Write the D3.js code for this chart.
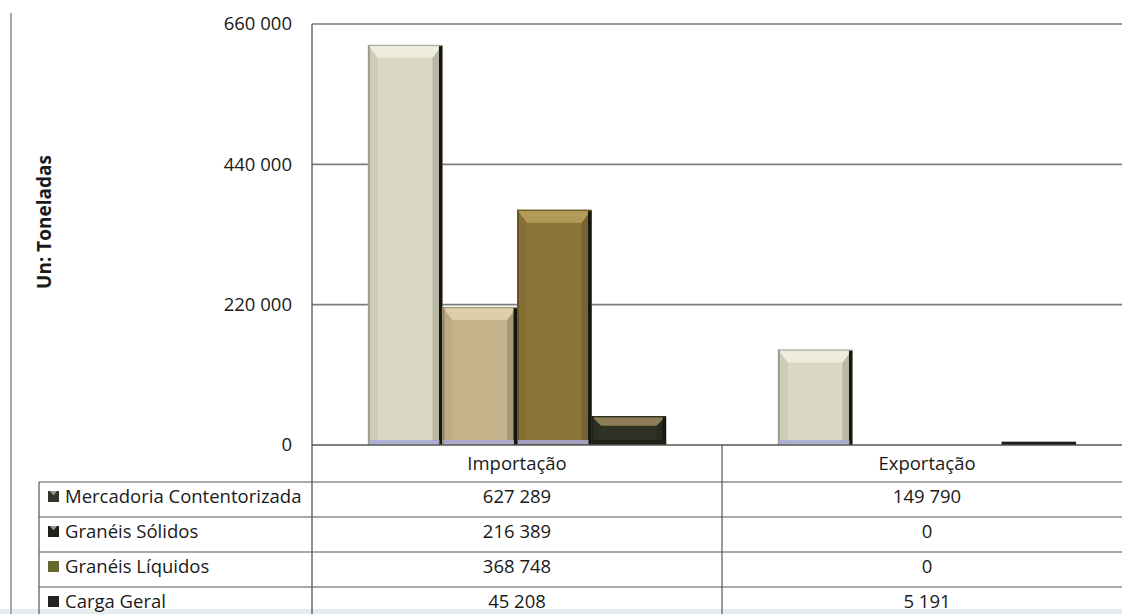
<!DOCTYPE html>
<html>
<head>
<meta charset="utf-8">
<script src="https://cdn.jsdelivr.net/npm/d3@7"></script>
<style>
html,body{margin:0;padding:0;background:#fff;}
svg{display:block;}
text{font-family:"Open Sans",sans-serif;fill:#1a1a1a;}
</style>
</head>
<body>
<svg id="chart" width="1122" height="614"></svg>
<script>
// ---- data ----
const categories = ["Importação", "Exportação"];
const series = ["Mercadoria Contentorizada", "Granéis Sólidos", "Granéis Líquidos", "Carga Geral"];
const importacao = [627289, 216389, 368748, 45208];
const exportacao = [149790, 0, 0, 5191];
const yTicks = [0, 220000, 440000, 660000];
const yTitle = "Un: Toneladas";

// ---- styles ----
const faceColors = ["#d9d8c2", "#c6b48d", "#8c7538", "#2e3124"];
const topColors  = ["#eeeddd", "#ddd0a9", "#b29b57", "#8c7d58"];
const markerColors = ["#34342a", "#1f1f1a", "#66672c", "#222220"];

const values = categories.map((c, i) => i === 0 ? importacao : exportacao);

const svg = d3.select("#chart");
const W = 1122, H = 614;
const plotLeft = 312, plotRight = 1132, plotTop = 24, plotBottom = 445;
const tableLeft = 39, legendTextX = 65;
const rowH = 35, headerBottom = 482;

const loc = d3.formatLocale({decimal: ",", thousands: " ", grouping: [3], currency: ["", "€"]});
const fmt = loc.format(",d");

const x = d3.scaleBand().domain(categories).range([plotLeft, plotRight]).padding(0);
const xs = d3.scaleBand().domain(series).range([0, x.bandwidth()]).paddingInner(0).paddingOuter(0.75);
const y = d3.scaleLinear().domain([0, 660000]).range([plotBottom, plotTop]);

// scan tint at bottom (behind everything)
svg.append("rect").attr("x", 0).attr("y", 609).attr("width", W).attr("height", 5).attr("fill", "#d3e0e4").attr("opacity", 0.6);

// scan edge on the left
svg.append("line").attr("x1", 11).attr("x2", 11).attr("y1", 13).attr("y2", H)
  .attr("stroke", "#a8a8a8").attr("stroke-width", 2);

// gridlines
svg.append("g").selectAll("line").data(yTicks.filter(d => d > 0)).join("line")
  .attr("x1", plotLeft).attr("x2", W)
  .attr("y1", d => y(d)).attr("y2", d => y(d))
  .attr("stroke", "#7d7d7d").attr("stroke-width", 1.6);

// plot left border
svg.append("line").attr("x1", plotLeft).attr("x2", plotLeft).attr("y1", plotTop).attr("y2", H)
  .attr("stroke", "#555").attr("stroke-width", 1.3);

// y tick labels
const yAxis = d3.axisLeft(y).tickValues(yTicks).tickFormat(fmt).tickSize(0).tickPadding(20);
const gy = svg.append("g").attr("transform", `translate(${plotLeft},0)`).call(yAxis);
gy.select(".domain").remove();
gy.selectAll("text").style("font-family", '"Open Sans",sans-serif').style("font-size", "18.5px").attr("fill", "#1a1a1a");

// y title
svg.append("text")
  .attr("transform", `translate(51,222) rotate(-90)`)
  .attr("text-anchor", "middle")
  .style("font-size", "19px").style("font-weight", "bold")
  .text(yTitle);

// bars
const barsG = svg.append("g");
categories.forEach((cat, ci) => {
  series.forEach((s, si) => {
    const v = values[ci][si];
    if (!v) return;
    const x0 = x(cat) + xs(s), x1 = x0 + xs.bandwidth();
    const y0 = y(v), y1 = y(0);
    const h = y1 - y0;
    const g = barsG.append("g");
    const face = faceColors[si], topc = topColors[si];
    if (h < 6) {
      g.append("rect").attr("x", x0).attr("y", y0).attr("width", x1 - x0).attr("height", h).attr("fill", "#1e1e18");
      return;
    }
    const bt = Math.min(13, h * 0.33), bs = Math.min(10, h * 0.33);
    const dk = d3.color(face).darker(0.45).formatHex();
    const lt = d3.color(face).darker(0.15).formatHex();
    g.append("rect").attr("x", x0).attr("y", y0).attr("width", x1 - x0).attr("height", h).attr("fill", face);
    g.append("polygon").attr("points", [[x0, y0], [x0 + bs, y0 + bt], [x0 + bs, y1 - 4], [x0, y1]].join(" ")).attr("fill", lt);
    g.append("polygon").attr("points", [[x1, y0], [x1 - bs, y0 + bt], [x1 - bs, y1 - 4], [x1, y1]].join(" ")).attr("fill", dk);
    g.append("polygon").attr("points", [[x0, y0], [x1, y0], [x1 - bs, y0 + bt], [x0 + bs, y0 + bt]].join(" ")).attr("fill", topc);
    g.append("rect").attr("x", x0).attr("y", y0).attr("width", 2).attr("height", h).attr("fill", d3.color(face).darker(0.9).formatHex());
    g.append("rect").attr("x", x1 - 3.5).attr("y", y0 + 1).attr("width", 3.5).attr("height", h - 1).attr("fill", "#17170f");
    g.append("rect").attr("x", x0).attr("y", y0).attr("width", x1 - x0).attr("height", 1.2).attr("fill", d3.color(face).darker(0.6).formatHex());
    if (si < 3) {
      g.append("rect").attr("x", x0 + 1).attr("y", y1 - 5).attr("width", x1 - x0 - 4).attr("height", 4).attr("fill", "#a7a8d8").attr("opacity", 0.85);
    } else {
      g.append("rect").attr("x", x0).attr("y", y1 - 5).attr("width", x1 - x0).attr("height", 5).attr("fill", "#1f2018");
    }
  });
});

// axis baseline
svg.append("line").attr("x1", plotLeft).attr("x2", W).attr("y1", plotBottom).attr("y2", plotBottom)
  .attr("stroke", "#555").attr("stroke-width", 1.4);

// ---- data table ----
const tbl = svg.append("g");
const rowTops = series.map((s, i) => headerBottom + i * rowH);
rowTops.forEach(t => {
  tbl.append("line").attr("x1", tableLeft).attr("x2", W).attr("y1", t).attr("y2", t)
    .attr("stroke", "#555").attr("stroke-width", 1.2);
});
tbl.append("line").attr("x1", tableLeft).attr("x2", tableLeft).attr("y1", headerBottom).attr("y2", H)
  .attr("stroke", "#555").attr("stroke-width", 1.2);
tbl.append("line").attr("x1", x(categories[1])).attr("x2", x(categories[1])).attr("y1", plotBottom).attr("y2", H)
  .attr("stroke", "#555").attr("stroke-width", 1.2);

// header
tbl.selectAll("text.hdr").data(categories).join("text").attr("class", "hdr")
  .attr("x", d => x(d) + x.bandwidth() / 2).attr("y", (plotBottom + headerBottom) / 2)
  .attr("dy", "0.35em").attr("text-anchor", "middle").style("font-size", "18.5px")
  .text(d => d);

// rows
series.forEach((s, si) => {
  const cy = rowTops[si] + 14.5;
  tbl.append("rect").attr("x", 48).attr("y", cy - 5.5).attr("width", 11).attr("height", 11).attr("fill", markerColors[si]);
  if (si < 2) {
    tbl.append("polygon").attr("points", [[50, cy - 5.5], [53.5, cy - 1], [57, cy - 5.5]].join(" ")).attr("fill", "#9a9a88");
  }
  tbl.append("text").attr("x", legendTextX).attr("y", cy).attr("dy", "0.35em").style("font-size", "18.5px").text(s);
  categories.forEach((c, ci) => {
    tbl.append("text").attr("x", x(c) + x.bandwidth() / 2).attr("y", cy).attr("dy", "0.35em")
      .attr("text-anchor", "middle").style("font-size", "18.5px").text(fmt(values[ci][si]));
  });
});
</script>
</body>
</html>
